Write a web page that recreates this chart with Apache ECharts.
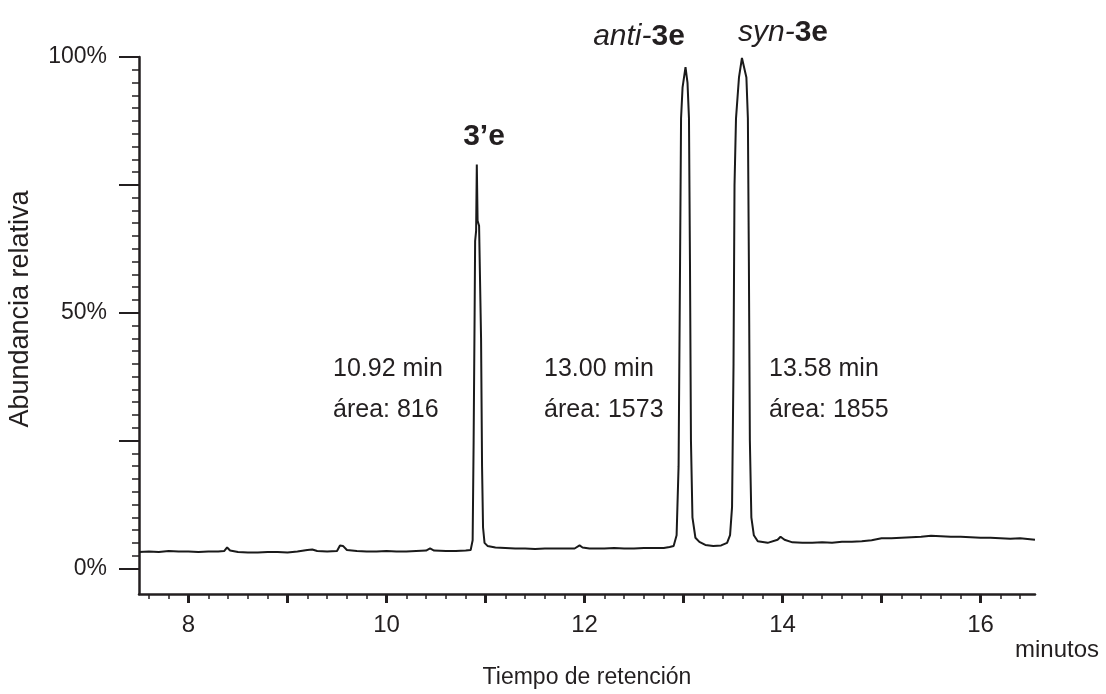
<!DOCTYPE html>
<html>
<head>
<meta charset="utf-8">
<script src="https://cdn.jsdelivr.net/npm/echarts@6/dist/echarts.min.js"></script>
<style>
  html, body { margin: 0; padding: 0; background: #fff; }
  #main { width: 1106px; height: 694px; }
</style>
</head>
<body>
<div id="main"></div>
<script>
var tiempo = [
  7.50, 7.60, 7.70, 7.80, 7.90, 8.00, 8.10, 8.20, 8.30, 8.36, 8.39, 8.42,
  8.50, 8.60, 8.70, 8.80, 8.90, 9.00, 9.10, 9.20, 9.25, 9.30, 9.40, 9.50,
  9.53, 9.56, 9.60, 9.70, 9.80, 9.90, 10.00, 10.10, 10.20, 10.30, 10.40, 10.44,
  10.48, 10.60, 10.70, 10.80, 10.85, 10.87, 10.88, 10.89, 10.895, 10.905, 10.912, 10.92,
  10.935, 10.95, 10.955, 10.965, 10.975, 10.99, 11.02, 11.10, 11.20, 11.30, 11.40, 11.50,
  11.60, 11.70, 11.80, 11.90, 11.95, 11.98, 12.05, 12.20, 12.30, 12.40, 12.50, 12.60,
  12.70, 12.80, 12.86, 12.90, 12.93, 12.95, 12.965, 12.975, 12.99, 13.02, 13.04, 13.055,
  13.065, 13.075, 13.09, 13.12, 13.16, 13.22, 13.30, 13.38, 13.44, 13.47, 13.49, 13.505,
  13.515, 13.53, 13.56, 13.59, 13.61, 13.635, 13.65, 13.66, 13.67, 13.685, 13.71, 13.75,
  13.85, 13.95, 13.98, 14.02, 14.10, 14.20, 14.30, 14.40, 14.50, 14.60, 14.70, 14.80,
  14.90, 15.00, 15.10, 15.20, 15.30, 15.40, 15.50, 15.60, 15.70, 15.80, 15.90, 16.00,
  16.10, 16.20, 16.30, 16.40, 16.50, 16.55
];
var abundancia = [
  3.2, 3.3, 3.2, 3.4, 3.3, 3.3, 3.2, 3.3, 3.3, 3.4, 4.1, 3.5,
  3.2, 3.1, 3.1, 3.2, 3.2, 3.1, 3.3, 3.6, 3.7, 3.4, 3.3, 3.4,
  4.5, 4.4, 3.6, 3.4, 3.3, 3.3, 3.4, 3.3, 3.3, 3.4, 3.5, 3.9,
  3.5, 3.4, 3.4, 3.5, 3.6, 5.5, 25, 50, 64, 66, 79, 68,
  67, 67, 45, 20, 8, 5, 4.4, 4.1, 4.0, 3.9, 3.9, 3.8,
  3.9, 3.9, 3.9, 3.9, 4.5, 4.1, 3.9, 3.9, 4.0, 3.9, 3.9, 4.0,
  4.0, 4.0, 4.2, 4.4, 6.5, 20, 60, 88, 94, 98, 95, 88,
  60, 25, 10, 6, 5.2, 4.6, 4.4, 4.5, 5.0, 6.5, 12, 40,
  75, 88, 96, 99.8, 99.5, 96, 88, 60, 25, 10, 6.5, 5.3,
  5.0, 5.6, 6.2, 5.6, 5.1, 5.0, 5.0, 5.1, 5.0, 5.2, 5.2, 5.3,
  5.5, 5.9, 5.9, 6.0, 6.1, 6.2, 6.4, 6.3, 6.2, 6.2, 6.1, 6.0,
  6.0, 5.9, 5.8, 5.9, 5.7, 5.6
];

// marcas de los ejes
var yMayores = [0, 25, 50, 75, 100];
var yEtiquetas = [0, 50, 100];
var xMayores = [8, 9, 10, 11, 12, 13, 14, 15, 16];
var xEtiquetas = [8, 10, 12, 14, 16];

var yMenores = [];
for (var v = 0; v <= 100; v += 2.5) yMenores.push(v);
var xMenores = [];
for (var k = 38; k <= 82; k++) xMenores.push(+(k * 0.2).toFixed(1));

var txt = '#231f20';
var font = '"Liberation Sans", Arial, sans-serif';

var chart = echarts.init(document.getElementById('main'));

var option = {
  backgroundColor: '#fff',
  animation: false,
  textStyle: { fontFamily: font, color: txt },
  grid: { left: 139, top: 57, right: 71, bottom: 100, outerBoundsMode: 'none' },
  xAxis: [{
    type: 'value', min: 7.5, max: 16.55, position: 'bottom',
    name: 'Tiempo de retención', nameLocation: 'middle', nameGap: 72,
    nameTextStyle: { fontSize: 23, color: txt, fontFamily: font },
    axisLine: { onZero: false, lineStyle: { color: txt, width: 2.5 } },
    axisTick: { customValues: xMayores, length: 9, lineStyle: { color: txt, width: 3 } },
    axisLabel: { customValues: xEtiquetas, margin: 19, fontSize: 24, color: txt, fontFamily: font },
    splitLine: { show: false }
  }, {
    type: 'value', min: 7.5, max: 16.55, position: 'bottom',
    axisLine: { show: false, onZero: false },
    axisTick: { customValues: xMenores, length: 5, lineStyle: { color: txt, width: 1.5 } },
    axisLabel: { show: false },
    splitLine: { show: false }
  }],
  yAxis: [{
    type: 'value', min: -5, max: 100, position: 'left',
    axisLine: { show: true, onZero: false, lineStyle: { color: txt, width: 2.5 } },
    axisTick: { customValues: yMayores, length: 20, lineStyle: { color: txt, width: 2 } },
    axisLabel: { customValues: yEtiquetas, formatter: '{value}%', margin: 32, fontSize: 23, color: txt, fontFamily: font },
    splitLine: { show: false }
  }, {
    type: 'value', min: -5, max: 100, position: 'left',
    axisLine: { show: false, onZero: false },
    axisTick: { customValues: yMenores, length: 7, lineStyle: { color: txt, width: 1.5 } },
    axisLabel: { show: false },
    splitLine: { show: false }
  }],
  series: [{
    type: 'line',
    xAxisIndex: 0,
    yAxisIndex: 0,
    showSymbol: false,
    symbol: 'none',
    lineStyle: { color: '#1a1a1a', width: 2 },
    data: tiempo.map(function (t, i) { return [t, abundancia[i]]; })
  }],
  graphic: [
    { type: 'text', x: 21, y: 309, rotation: Math.PI / 2,
      style: { x: 0, y: 0, text: 'Abundancia relativa', font: '27px ' + font, fill: txt, align: 'center', verticalAlign: 'middle' } },
    { type: 'text', style: { x: 1015, y: 650, text: 'minutos', font: '24px ' + font, fill: txt, verticalAlign: 'middle' } },
    { type: 'text', style: { x: 484, y: 137, text: '3’e', font: 'bold 30px ' + font, fill: txt, align: 'center', verticalAlign: 'middle' } },
    { type: 'text', style: { x: 639, y: 37, text: '{i|anti-}{b|3e}', align: 'center', verticalAlign: 'middle',
      rich: { i: { font: 'italic 30px ' + font, fill: txt }, b: { font: 'bold 30px ' + font, fill: txt } } } },
    { type: 'text', style: { x: 783, y: 33, text: '{i|syn-}{b|3e}', align: 'center', verticalAlign: 'middle',
      rich: { i: { font: 'italic 30px ' + font, fill: txt }, b: { font: 'bold 30px ' + font, fill: txt } } } },
    { type: 'text', style: { x: 333, y: 369, text: '10.92 min', font: '25px ' + font, fill: txt, verticalAlign: 'middle' } },
    { type: 'text', style: { x: 333, y: 410, text: 'área: 816', font: '25px ' + font, fill: txt, verticalAlign: 'middle' } },
    { type: 'text', style: { x: 544, y: 369, text: '13.00 min', font: '25px ' + font, fill: txt, verticalAlign: 'middle' } },
    { type: 'text', style: { x: 544, y: 410, text: 'área: 1573', font: '25px ' + font, fill: txt, verticalAlign: 'middle' } },
    { type: 'text', style: { x: 769, y: 369, text: '13.58 min', font: '25px ' + font, fill: txt, verticalAlign: 'middle' } },
    { type: 'text', style: { x: 769, y: 410, text: 'área: 1855', font: '25px ' + font, fill: txt, verticalAlign: 'middle' } }
  ]
};

chart.setOption(option);
</script>
</body>
</html>
